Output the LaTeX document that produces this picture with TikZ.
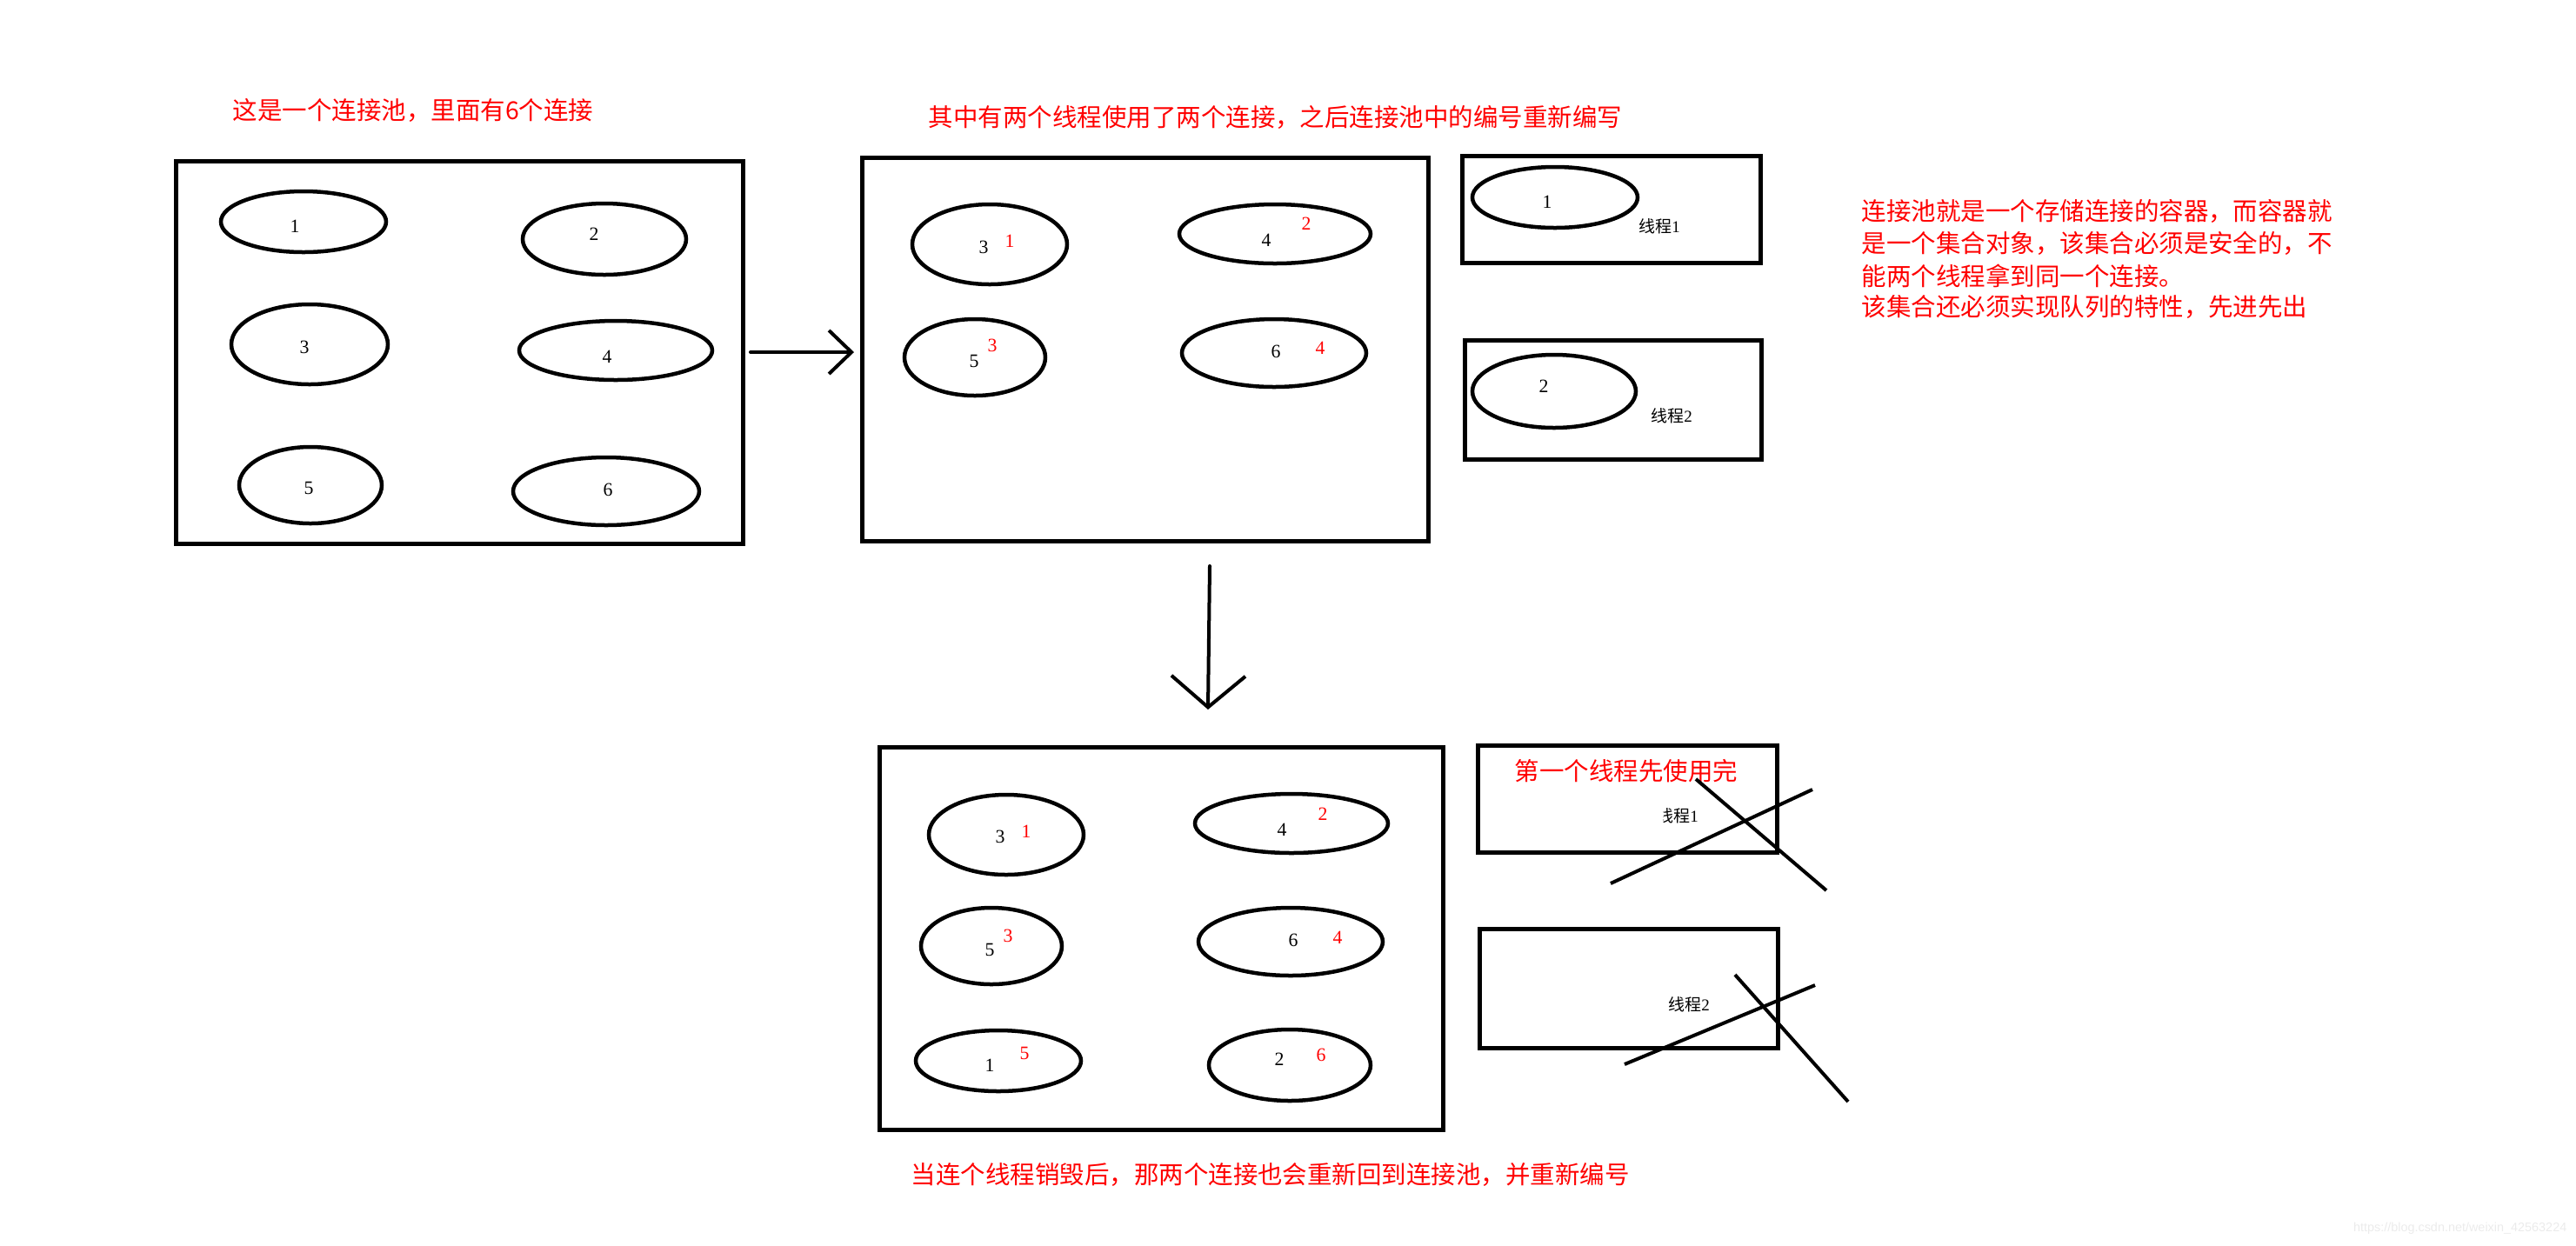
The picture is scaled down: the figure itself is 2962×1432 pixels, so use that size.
\documentclass[tikz,border=0pt]{standalone}
\usepackage{fontspec}
\setmainfont{Liberation Serif}
\setsansfont{Liberation Sans}
\newfontfamily\cjk{Noto Sans CJK SC}
\usetikzlibrary{arrows.meta}

\tikzset{
  pool/.style={line width=0.05cm},
  conn/.style={line width=0.045cm},
  strike/.style={line width=0.04cm},
  num/.style={font=\fontsize{6.2}{7}\selectfont, inner sep=0},
  renum/.style={num, text=red},
  thr/.style={font=\fontsize{5.4}{6}\selectfont, inner sep=0},
  note/.style={font=\cjk\fontsize{8.1}{9.7}\selectfont, text=red, inner sep=0, anchor=west},
  flow/.style={line width=0.04cm, line cap=round},
}

\begin{document}
\begin{tikzpicture}[x=0.01cm,y=-0.01cm]
\useasboundingbox (0,0) rectangle (2962,1432);

%first pool
\node[note] (t1) at (267,127) {这是一个连接池，里面有6个连接};
\draw[pool] (202,185) rectangle (854,625);
\draw[conn] (349,255) ellipse [x radius=95, y radius=35];
\draw[conn] (695,275) ellipse [x radius=94, y radius=41];
\draw[conn] (356,396) ellipse [x radius=90, y radius=46];
\draw[conn] (708,403) ellipse [x radius=111, y radius=34];
\draw[conn] (357,558) ellipse [x radius=82, y radius=44];
\draw[conn] (697,565) ellipse [x radius=107, y radius=39];
\node[num] (a1) at (339,260) {1};
\node[num] (a2) at (683,269) {2};
\node[num] (a3) at (350,399) {3};
\node[num] (a4) at (698,410) {4};
\node[num] (a5) at (355,561) {5};
\node[num] (a6) at (699,563) {6};

\coordinate (r0) at (863,405);
\coordinate (r1) at (982,405);
\draw[flow, -{Straight Barb[length=0.26cm, width=0.5cm]}] (r0) -- (r1);

%second pool
\node[note] (t2) at (1067,135) {其中有两个线程使用了两个连接，之后连接池中的编号重新编写};
\draw[pool] (991,181) rectangle (1642,622);
\draw[conn] (1138,281) ellipse [x radius=89, y radius=46];
\draw[conn] (1466,269) ellipse [x radius=110, y radius=34];
\draw[conn] (1121,411) ellipse [x radius=81, y radius=44];
\draw[conn] (1465,406) ellipse [x radius=106, y radius=39];
\node[num] (b3) at (1131,284) {3};
\node[renum] (b1) at (1161,277) {1};
\node[num] (b4) at (1456,276) {4};
\node[renum] (b2) at (1502,257) {2};
\node[num] (b5) at (1120,415) {5};
\node[renum] (b3r) at (1141,397) {3};
\node[num] (b6) at (1467,404) {6};
\node[renum] (b4r) at (1518,400) {4};

%threads
\draw[pool] (1681,179) rectangle (2024,302);
\draw[conn] (1788,227) ellipse [x radius=95, y radius=35];
\node[num] (c1) at (1779,232) {1};
\node[thr] (th1) at (1908,260) {{\cjk 线程}1};
\draw[pool] (1684,391) rectangle (2025,528);
\draw[conn] (1787,450) ellipse [x radius=94, y radius=42];
\node[num] (c2) at (1775,444) {2};
\node[thr] (th2) at (1922,478) {{\cjk 线程}2};

\node[note] (l1) at (2140,243) {连接池就是一个存储连接的容器，而容器就};
\node[note] (l2) at (2140,280) {是一个集合对象，该集合必须是安全的，不};
\node[note] (l3) at (2140,317) {能两个线程拿到同一个连接。};
\node[note] (l4) at (2140,353) {该集合还必须实现队列的特性，先进先出};

\coordinate (d0) at (1391,651);
\coordinate (d1) at (1389,816);
\draw[flow, -{Straight Barb[length=0.36cm, width=0.85cm]}] (d0) -- (d1);

%third pool
\draw[pool] (1011,859) rectangle (1659,1299);
\draw[conn] (1157,960) ellipse [x radius=89, y radius=46];
\draw[conn] (1485,947) ellipse [x radius=111, y radius=34];
\draw[conn] (1140,1088) ellipse [x radius=81, y radius=44];
\draw[conn] (1484,1083) ellipse [x radius=106, y radius=39];
\draw[conn] (1148,1220) ellipse [x radius=95, y radius=35];
\draw[conn] (1483,1225) ellipse [x radius=93, y radius=41];
\node[num] (e3) at (1150,962) {3};
\node[renum] (e1r) at (1180,956) {1};
\node[num] (e4) at (1474,954) {4};
\node[renum] (e2r) at (1521,936) {2};
\node[num] (e5) at (1138,1092) {5};
\node[renum] (e3r) at (1159,1076) {3};
\node[num] (e6) at (1487,1081) {6};
\node[renum] (e4r) at (1538,1078) {4};
\node[num] (e1) at (1138,1225) {1};
\node[renum] (e5r) at (1178,1211) {5};
\node[num] (e2) at (1471,1218) {2};
\node[renum] (e6r) at (1519,1213) {6};
\node[note] (t3) at (1047,1351) {当连个线程销毁后，那两个连接也会重新回到连接池，并重新编号};

%finished threads
\draw[pool] (1699,857) rectangle (2043,980);
\node[note] (t4) at (1741,887) {第一个线程先使用完};
\node[thr] (th3) at (1929,938) {{\cjk 线程}1};
\fill[white] (th3.west) ++(-2,-12) rectangle ++(9,24);
\draw[strike] (1852,1016) -- (2084,908);
\draw[strike] (1950,896) -- (2100,1024);
\draw[pool] (1701,1068) rectangle (2044,1205);
\node[thr] (th4) at (1942,1155) {{\cjk 线程}2};
\draw[strike] (1868,1224) -- (2087,1133);
\draw[strike] (1995,1121) -- (2125,1267);

\node[font=\sffamily\fontsize{4.1}{5}\selectfont, text=black!8, inner sep=0, anchor=east] (wm) at (2952,1413) {https://blog.csdn.net/weixin\_42563224};

\end{tikzpicture}
\end{document}
